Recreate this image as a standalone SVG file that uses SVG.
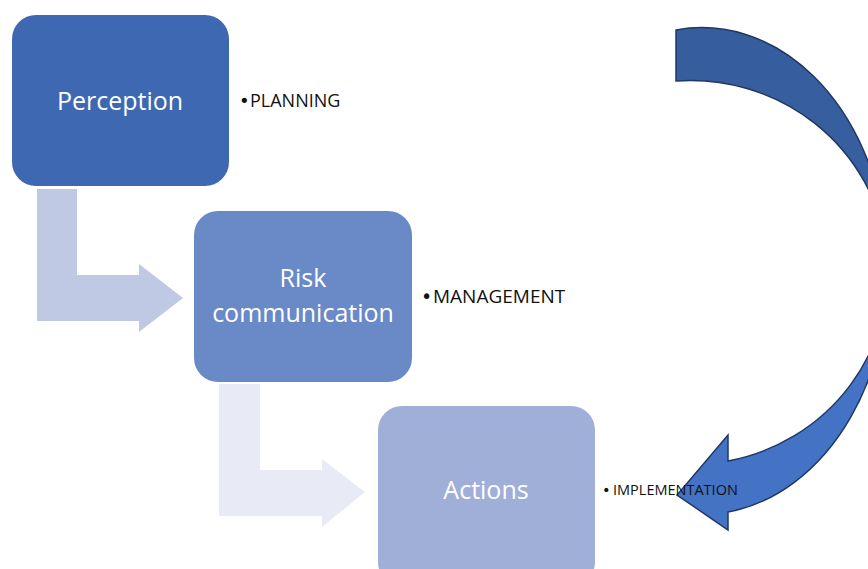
<svg xmlns="http://www.w3.org/2000/svg" width="868" height="569" viewBox="0 0 868 569">
<style>
.box-text{font-family:"Open Sans","Liberation Sans",sans-serif;font-size:25px;fill:#ffffff;text-anchor:middle}
.bullet{font-family:"Open Sans","Liberation Sans",sans-serif;fill:#111111}
.dot{font-family:"DejaVu Sans",sans-serif}
</style>
<defs>
<linearGradient id="curveGrad" x1="0" y1="0" x2="0" y2="1" gradientUnits="objectBoundingBox">
<stop offset="0" stop-color="#365D9D"/>
<stop offset="0.5" stop-color="#385F9F"/>
<stop offset="0.62" stop-color="#4472C4"/>
<stop offset="1" stop-color="#4472C4"/>
</linearGradient>
</defs>
<rect width="868" height="569" fill="#ffffff"/>
<g id="connectors">
<path id="bent1" d="M37 189 H77 V275 H139 V264 L183 298 L139 332 V321 H37 Z" fill="#BFC9E4"/>
<path id="bent2" d="M219 384 H260 V470 H322 V459 L365 492 L322 527 V516 H219 Z" fill="#E8EBF5"/>
<path id="curved" d="M676 30 A185 242 0 0 1 728 512 L728 530 L677 495 L728 435 L728 461 A197 192 0 0 0 676 81 Z" fill="url(#curveGrad)" stroke="#1F3864" stroke-width="1.5" stroke-linejoin="miter"/>
</g>
<g id="perception">
<rect x="12" y="15" width="217" height="171" rx="24" fill="#3E68B1"/>
<text class="box-text" x="120" y="110">Perception</text>
</g>
<g id="risk">
<rect x="194" y="211" width="218" height="171" rx="24" fill="#6A89C7"/>
<text class="box-text" x="303" y="287">Risk</text>
<text class="box-text" x="303" y="322">communication</text>
</g>
<g id="actions">
<rect x="378" y="406" width="217" height="180" rx="24" fill="#9FAFD8"/>
<text class="box-text" x="486" y="499">Actions</text>
</g>
<g id="labels">
<text class="bullet" x="239" y="107" font-size="18"><tspan class="dot">•</tspan><tspan x="250">PLANNING</tspan></text>
<text class="bullet" x="421" y="303" font-size="19"><tspan class="dot">•</tspan><tspan x="433">MANAGEMENT</tspan></text>
<text class="bullet" x="602" y="495" font-size="14.5"><tspan class="dot">•</tspan><tspan x="613">IMPLEMENTATION</tspan></text>
</g>
</svg>
